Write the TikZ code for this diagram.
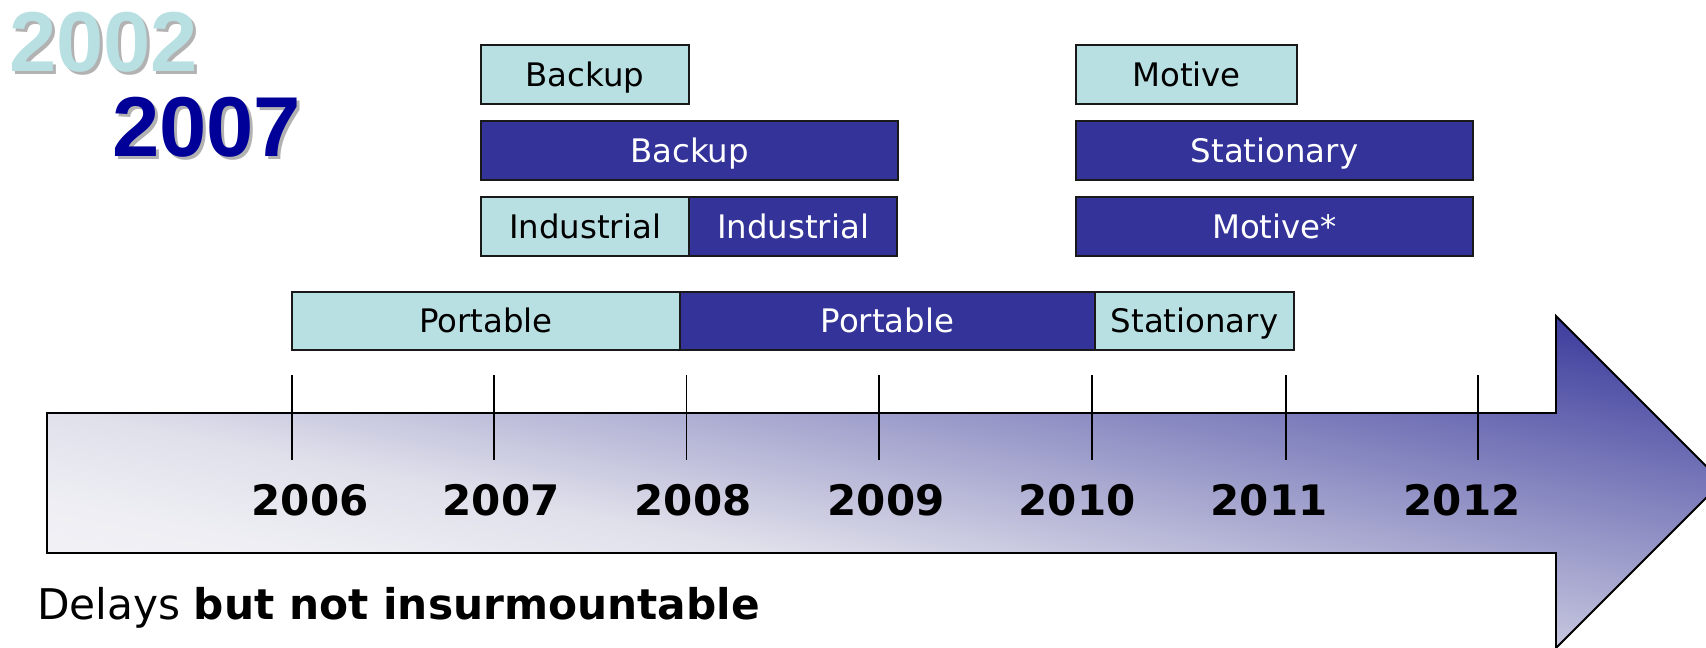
\documentclass[tikz,border=0pt]{standalone}
\usepackage{fontspec}
\setmainfont{DejaVu Sans}
\newfontfamily\headfont{Liberation Sans}

\definecolor{lightfill}{RGB}{184,223,226}
\definecolor{darkfill}{RGB}{51,51,153}
\definecolor{navy}{RGB}{0,0,153}
\definecolor{shadowgray}{RGB}{178,178,178}
\definecolor{arrowA}{RGB}{245,245,248}
\definecolor{arrowB}{RGB}{238,238,244}
\definecolor{arrowC}{RGB}{224,224,235}
\definecolor{arrowD}{RGB}{48,48,151}

% pale at the lower left corner, deep blue at the upper right corner
\pgfdeclareverticalshading{arrowfill}{100bp}{color(0bp)=(arrowA); color(25bp)=(arrowA);
  color(36bp)=(arrowB); color(43bp)=(arrowC); color(75bp)=(arrowD); color(100bp)=(arrowD)}

\begin{document}
\begin{tikzpicture}[x=1pt,y=1pt,
  box/.style={draw=black!90, line width=1.8pt, inner sep=0pt, minimum height=59pt,
    text height=23.5pt, text depth=0pt, font=\fontsize{32.4}{38}\selectfont},
  litebox/.style={box, fill=lightfill, text=black},
  darkbox/.style={box, fill=darkfill, text=white},
  bigyear/.style={anchor=base west, inner sep=0pt, font=\headfont\bfseries\fontsize{85}{92}\selectfont},
  yearlabel/.style={anchor=base, inner sep=0pt, font=\bfseries\fontsize{42}{48}\selectfont},
  tickline/.style={line width=1.5pt, black}]

\useasboundingbox (0,0) rectangle (1706,648);

% ---- timeline arrow ----
\coordinate (a1) at (47,235);
\coordinate (a2) at (1556,235);
\coordinate (a3) at (1556,332);
\coordinate (a4) at (1722,166);
\coordinate (a5) at (1556,0);
\coordinate (a6) at (1556,95);
\coordinate (a7) at (47,95);
\begin{scope}
  \clip (a1) -- (a2) -- (a3) -- (a4) -- (a5) -- (a6) -- (a7) -- cycle;
  \begin{scope}[transform canvas={cm={1675,0,0,332,(47,0)}}]
    \shade[shading=arrowfill, shading angle=-45] (-0.2071,-0.2071) rectangle (1.2071,1.2071);
  \end{scope}
\end{scope}
\draw[line width=1.8pt, line join=miter] (a1) -- (a2) -- (a3) -- (a4) -- (a5) -- (a6) -- (a7) -- cycle;

% ---- year ticks and labels ----
\foreach \yr/\tx/\lx in {2006/292/310, 2007/494/501, 2008/686.5/693, 2009/879/886,
                         2010/1092/1077, 2011/1286/1269, 2012/1478/1462} {
  \coordinate (t\yr) at (\tx,273);
  \coordinate (b\yr) at (\tx,188);
  \draw[tickline] (t\yr) -- (b\yr);
  \node[yearlabel] (y\yr) at (\lx,132) {\yr};
}

% ---- headline years ----
\node[bigyear, text=shadowgray] (h02s) at (12,573) {2002};
\node[bigyear, text=lightfill]  (h02)  at (9,576) {2002};
\node[bigyear, text=shadowgray] (h07s) at (115,488) {2007};
\node[bigyear, text=navy]       (h07)  at (112,491) {2007};

% ---- market blocks ----
\node[litebox, minimum width=208pt] (bk1) at (585,573.5) {Backup};
\node[darkbox, minimum width=417pt] (bk2) at (689.5,497.5) {Backup};
\node[litebox, minimum width=208pt] (in1) at (585,421.5) {Industrial};
\node[darkbox, minimum width=208pt] (in2) at (793,421.5) {Industrial};

\node[litebox, minimum width=221pt] (mo1) at (1186.5,573.5) {Motive};
\node[darkbox, minimum width=397pt] (st2) at (1274.5,497.5) {Stationary};
\node[darkbox, minimum width=397pt] (mo2) at (1274.5,421.5) {Motive*};

\node[litebox, minimum width=388pt, minimum height=58pt] (po1) at (486,327) {Portable};
\node[darkbox, minimum width=415pt, minimum height=58pt] (po2) at (887.5,327) {Portable};
\node[litebox, minimum width=199pt, minimum height=58pt] (st1) at (1194.5,327) {Stationary};

% ---- footnote ----
\node[anchor=base west, inner sep=0pt, font=\fontsize{42.3}{50}\selectfont] (note) at (37,28)
  {Delays \textbf{but not insurmountable}};
\end{tikzpicture}
\end{document}
